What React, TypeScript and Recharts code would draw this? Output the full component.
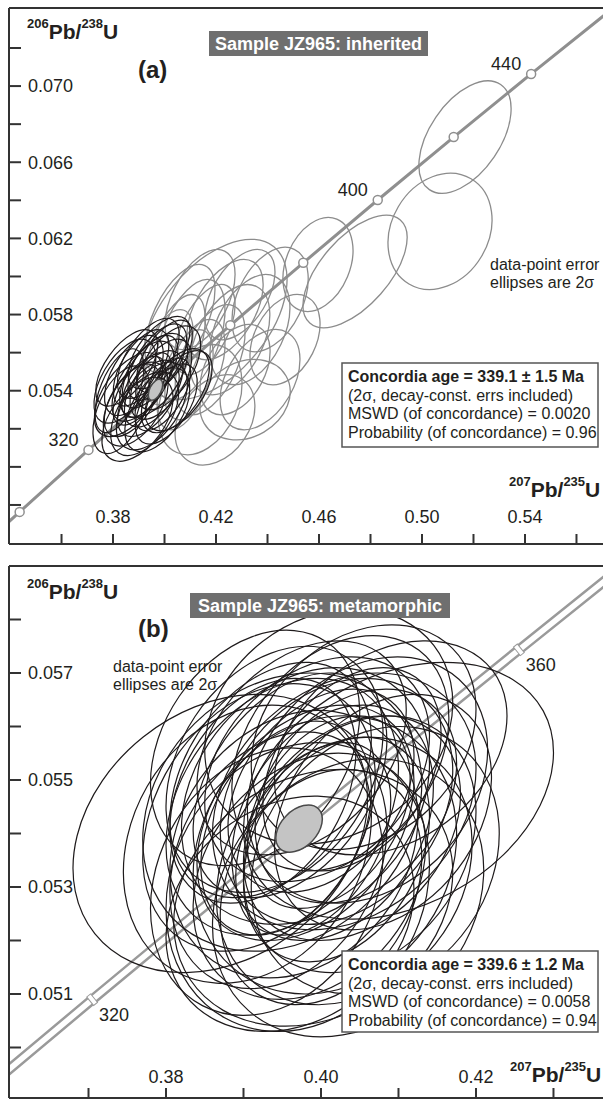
import React from 'react';
import { ComposedChart, XAxis, YAxis, Line, Scatter, ReferenceLine } from 'recharts';

const FONT = '"Liberation Sans", Arial, Helvetica, sans-serif';
const INK = '#231f20';
const AXIS = '#333333';
const W = 603;

// concordia curve: age (Ma), 207Pb/235U, 206Pb/238U
const concordiaAges = [280, 300, 310, 320, 330, 340, 350, 360, 370, 380, 400, 420, 440, 460];
const concordia207 = [0.317529, 0.343737, 0.357038, 0.370467, 0.384032, 0.397729, 0.411563, 0.425533, 0.439642, 0.453891, 0.482812, 0.512309, 0.542392, 0.573073];
const concordia206 = [0.044392, 0.047637, 0.049264, 0.050893, 0.052524, 0.054158, 0.055795, 0.057434, 0.059075, 0.060719, 0.064016, 0.067322, 0.070638, 0.073965];

// panel (a) axes
const aXDomain = [0.3396, 0.5703];
const aYDomain = [0.04595, 0.0741];
const aXTicks = [0.36, 0.38, 0.40, 0.42, 0.44, 0.46, 0.48, 0.50, 0.52, 0.54, 0.56];
const aXLabels = [0.38, 0.42, 0.46, 0.50, 0.54];
const aYTicks = [0.048, 0.050, 0.052, 0.054, 0.056, 0.058, 0.060, 0.062, 0.064, 0.066, 0.068, 0.070, 0.072];
const aYLabels = [0.054, 0.058, 0.062, 0.066, 0.070];
const aMarkerAges = [300, 320, 340, 360, 380, 400, 420, 440];
const aLabelAges = [320, 400, 440];

// panel (b) axes
const bXDomain = [0.35974, 0.43639];
const bYDomain = [0.049056, 0.059];
const bXTicks = [0.37, 0.38, 0.39, 0.40, 0.41, 0.42, 0.43];
const bXLabels = [0.38, 0.40, 0.42];
const bYTicks = [0.050, 0.051, 0.052, 0.053, 0.054, 0.055, 0.056, 0.057, 0.058];
const bYLabels = [0.051, 0.053, 0.055, 0.057];
const bMarkerAges = [320, 340, 360];
const bLabelAges = [320, 360];

// error ellipses: [207Pb/235U, 206Pb/238U, 2s x, 2s y, rho]
const aInherited = [
  [0.5167, 0.06732, 0.0179, 0.00295, 0.5],
  [0.5070, 0.06237, 0.0202, 0.00305, 0.2],
  [0.4596, 0.06063, 0.0136, 0.00247, 0.3],
  [0.4740, 0.06026, 0.0202, 0.00295, 0.6],
  [0.4196, 0.05774, 0.0280, 0.00421, 0.5],
  [0.4138, 0.05353, 0.0163, 0.00289, 0.3],
  [0.4313, 0.05353, 0.0175, 0.00211, 0.2],
  [0.4371, 0.05458, 0.0155, 0.00263, 0.4],
  [0.4099, 0.05668, 0.0136, 0.00316, 0.5],
  [0.4041, 0.05616, 0.0117, 0.00289, 0.55],
  [0.4177, 0.05563, 0.0136, 0.00289, 0.5],
  [0.4254, 0.05668, 0.0155, 0.00289, 0.45],
  [0.4118, 0.05511, 0.0117, 0.00263, 0.5],
  [0.4060, 0.05774, 0.0136, 0.00289, 0.55],
  [0.4235, 0.05826, 0.0148, 0.00263, 0.5],
  [0.4332, 0.05721, 0.0155, 0.00289, 0.4],
  [0.4157, 0.05721, 0.0117, 0.00237, 0.55],
  [0.4080, 0.05458, 0.0109, 0.00263, 0.5],
  [0.4410, 0.05879, 0.0148, 0.00274, 0.4],
  [0.4293, 0.05905, 0.0136, 0.00237, 0.5],
  [0.4196, 0.05247, 0.0155, 0.00237, 0.3],
  [0.4002, 0.05563, 0.0109, 0.00263, 0.55],
  [0.4468, 0.05668, 0.0136, 0.00237, 0.35],
  [0.4274, 0.05511, 0.0136, 0.00237, 0.4],
  [0.4138, 0.05879, 0.0136, 0.00263, 0.5],
];

const aMetamorphic = [
  [0.3860, 0.0538, 0.0132, 0.0022, 0.55],
  [0.3916, 0.0545, 0.0120, 0.0021, 0.6],
  [0.3958, 0.0541, 0.0114, 0.0020, 0.55],
  [0.3888, 0.0533, 0.0126, 0.0022, 0.5],
  [0.3944, 0.0550, 0.0108, 0.0019, 0.6],
  [0.3986, 0.0546, 0.0120, 0.0021, 0.55],
  [0.3832, 0.0530, 0.0110, 0.0023, 0.5],
  [0.4014, 0.0552, 0.0126, 0.0022, 0.55],
  [0.3902, 0.0540, 0.0102, 0.0018, 0.6],
  [0.3937, 0.0536, 0.0120, 0.0020, 0.55],
  [0.3972, 0.0555, 0.0114, 0.0020, 0.6],
  [0.3881, 0.0548, 0.0114, 0.0021, 0.55],
  [0.3923, 0.0528, 0.0132, 0.0022, 0.5],
  [0.3993, 0.0538, 0.0108, 0.0019, 0.6],
  [0.3846, 0.0545, 0.0120, 0.0022, 0.55],
  [0.4055, 0.0540, 0.0130, 0.0021, 0.55],
  [0.3951, 0.0532, 0.0138, 0.0023, 0.5],
  [0.3909, 0.0552, 0.0108, 0.0020, 0.6],
  [0.4007, 0.0533, 0.0120, 0.0021, 0.55],
  [0.3825, 0.0540, 0.0095, 0.0022, 0.55],
  [0.3979, 0.0560, 0.0120, 0.0019, 0.6],
  [0.3895, 0.0525, 0.0138, 0.0022, 0.5],
  [0.3930, 0.0543, 0.0096, 0.0017, 0.6],
  [0.3958, 0.0548, 0.0132, 0.0022, 0.55],
  [0.3874, 0.0535, 0.0108, 0.0019, 0.55],
  [0.4042, 0.0540, 0.0132, 0.0022, 0.55],
  [0.4000, 0.0558, 0.0108, 0.0019, 0.6],
  [0.3937, 0.0557, 0.0120, 0.0021, 0.6],
  [0.3853, 0.0552, 0.0120, 0.0020, 0.6],
  [0.3972, 0.0530, 0.0126, 0.0022, 0.5],
];

const bMetamorphic = [
  [0.3870, 0.0540, 0.0190, 0.0026, 0.25],
  [0.4010, 0.0560, 0.0160, 0.0022, 0.2],
  [0.4100, 0.0548, 0.0200, 0.0024, 0.3],
  [0.3990, 0.0528, 0.0180, 0.0024, 0.2],
  [0.3950, 0.0545, 0.0150, 0.0024, 0.3],
  [0.3980, 0.0542, 0.0140, 0.0022, 0.35],
  [0.4020, 0.0546, 0.0150, 0.0023, 0.25],
  [0.3965, 0.0538, 0.0160, 0.0025, 0.2],
  [0.4040, 0.0541, 0.0140, 0.0021, 0.3],
  [0.3935, 0.0550, 0.0130, 0.0022, 0.35],
  [0.4005, 0.0536, 0.0170, 0.0026, 0.15],
  [0.3995, 0.0552, 0.0145, 0.0021, 0.3],
  [0.4060, 0.0550, 0.0155, 0.0023, 0.25],
  [0.3945, 0.0535, 0.0140, 0.0024, 0.25],
  [0.4030, 0.0533, 0.0165, 0.0025, 0.2],
  [0.3920, 0.0543, 0.0150, 0.0025, 0.3],
  [0.3975, 0.0556, 0.0135, 0.0020, 0.35],
  [0.4050, 0.0538, 0.0150, 0.0024, 0.25],
  [0.3960, 0.0549, 0.0125, 0.0021, 0.4],
  [0.4015, 0.0542, 0.0130, 0.0022, 0.3],
  [0.3985, 0.0532, 0.0150, 0.0023, 0.25],
  [0.4080, 0.0544, 0.0140, 0.0022, 0.3],
  [0.3905, 0.0538, 0.0160, 0.0026, 0.2],
  [0.4025, 0.0555, 0.0140, 0.0022, 0.3],
  [0.3955, 0.0541, 0.0110, 0.0020, 0.35],
  [0.4000, 0.0548, 0.0120, 0.0019, 0.35],
  [0.4045, 0.0547, 0.0130, 0.0020, 0.3],
  [0.3970, 0.0530, 0.0170, 0.0027, 0.15],
  [0.4035, 0.0528, 0.0175, 0.0026, 0.2],
  [0.3940, 0.0552, 0.0140, 0.0023, 0.3],
  [0.4070, 0.0535, 0.0160, 0.0025, 0.2],
  [0.3990, 0.0539, 0.0100, 0.0018, 0.4],
  [0.4010, 0.0544, 0.0105, 0.0018, 0.35],
  [0.3925, 0.0548, 0.0120, 0.0021, 0.35],
  [0.4055, 0.0558, 0.0145, 0.0021, 0.25],
  [0.3930, 0.0531, 0.0150, 0.0025, 0.2],
  [0.4020, 0.0537, 0.0120, 0.0021, 0.3],
  [0.3980, 0.0547, 0.0160, 0.0024, 0.25],
  [0.3960, 0.0525, 0.0160, 0.0022, 0.2],
  [0.4090, 0.0556, 0.0150, 0.0020, 0.3],
  [0.3915, 0.0556, 0.0135, 0.0022, 0.3],
  [0.4040, 0.0552, 0.0115, 0.0019, 0.35],
  [0.4000, 0.0530, 0.0130, 0.0022, 0.25],
  [0.3950, 0.0544, 0.0180, 0.0026, 0.2],
  [0.4030, 0.0546, 0.0170, 0.0024, 0.25],
];

// concordia ages (weighted ellipses)
const aConcordiaAge = [[0.3965, 0.05405, 0.0028, 0.00055, 0.5]];
const bConcordiaAge = [[0.39717, 0.054092, 0.0030, 0.00044, 0.4]];

const concordiaRows = concordiaAges.map((age, i) => ({ age, x: concordia207[i], y: concordia206[i] }));
const markerRows = (ages: number[], labels: number[]) =>
  concordiaRows.filter((r) => ages.includes(r.age)).map((r) => ({ ...r, label: labels.includes(r.age) ? String(r.age) : '' }));
const toEllipses = (list: number[][]) => list.map(([x, y, sx, sy, rho]) => ({ x, y, sx, sy, rho }));

const fmt = (labels: number[], digits: number) => (v: number) =>
  labels.some((l) => Math.abs(l - v) < 1e-9) ? v.toFixed(digits) : '';

function ErrorEllipse(props: any) {
  const { cx, cy, payload, kx, ky, ink, paint, sw } = props;
  if (cx == null || cy == null) return null;
  const a = payload.sx * kx;
  const b = payload.sy * ky;
  const c = -payload.rho * a * b; // screen y points down
  const m = (a * a + b * b) / 2;
  const d = Math.sqrt(((a * a - b * b) / 2) ** 2 + c * c);
  const rx = Math.sqrt(m + d);
  const ry = Math.sqrt(Math.max(m - d, 0));
  const ang = (0.5 * Math.atan2(2 * c, a * a - b * b) * 180) / Math.PI;
  return (
    <ellipse cx={cx} cy={cy} rx={rx} ry={ry} transform={`rotate(${ang} ${cx} ${cy})`}
      fill={paint} stroke={ink} strokeWidth={sw} />
  );
}

function CircleMark(props: any) {
  const { cx, cy, payload } = props;
  if (cx == null) return null;
  return (
    <g>
      <circle cx={cx} cy={cy} r={4.5} fill="#fff" stroke="#8f8f8f" strokeWidth={1.5} />
      {payload.label && (
        <text x={cx - 25} y={cy - 10} textAnchor="middle" dominantBaseline="central"
          fontSize={18} fontFamily={FONT} fill={INK}>{payload.label}</text>
      )}
    </g>
  );
}

function BandMark(props: any) {
  const { cx, cy, payload } = props;
  if (cx == null) return null;
  return (
    <g>
      <rect x={cx - 2.5} y={cy - 5.5} width={5} height={11} fill="#fff" stroke="#9a9a9a" strokeWidth={1}
        transform={`rotate(-39 ${cx} ${cy})`} />
      {payload.label && (
        <text x={cx + 22} y={cy + 15} textAnchor="middle" dominantBaseline="central"
          fontSize={18} fontFamily={FONT} fill={INK}>{payload.label}</text>
      )}
    </g>
  );
}

function Panel(p: any) {
  const { height, margin, xDomain, yDomain, xTicks, xLabels, xDigits, yTicks, yLabels, xTickMargin, band } = p;
  const kx = (W - margin.left - margin.right) / (xDomain[1] - xDomain[0]);
  const ky = (height - margin.top - margin.bottom) / (yDomain[1] - yDomain[0]);
  const axisStyle = { stroke: AXIS, strokeWidth: 2 };
  const tickStyle = { fill: INK, fontSize: 18, fontFamily: FONT };
  return (
    <ComposedChart width={W} height={height} margin={margin}>
      <XAxis type="number" dataKey="x" domain={xDomain} allowDataOverflow ticks={xTicks} interval={0}
        mirror tickSize={10} tickMargin={xTickMargin} axisLine={axisStyle} tickLine={axisStyle}
        tick={tickStyle} tickFormatter={fmt(xLabels, xDigits)} />
      <YAxis type="number" dataKey="y" domain={yDomain} allowDataOverflow ticks={yTicks} interval={0}
        mirror tickSize={12} tickMargin={7} axisLine={axisStyle} tickLine={axisStyle}
        tick={tickStyle} tickFormatter={fmt(yLabels, 3)} />
      <ReferenceLine y={yDomain[1]} stroke={AXIS} strokeWidth={2} />
      {band ? (
        <Line data={concordiaRows} dataKey="y" type="linear" stroke="#9a9a9a" strokeWidth={10.5}
          dot={false} activeDot={false} isAnimationActive={false} />
      ) : null}
      <Line data={concordiaRows} dataKey="y" type="linear" stroke={band ? '#fff' : '#8f8f8f'}
        strokeWidth={band ? 5.5 : 3} dot={false} activeDot={false} isAnimationActive={false} />
      {p.layers.map((layer: any, i: number) => (
        <Scatter key={i} data={layer.data} isAnimationActive={false}
          shape={(s: any) => <ErrorEllipse {...s} kx={kx} ky={ky} ink={layer.ink} paint={layer.paint} sw={layer.sw} />} />
      ))}
      <Scatter data={p.markers} isAnimationActive={false} shape={band ? BandMark : CircleMark} />
      <Scatter data={p.ageEllipse} isAnimationActive={false}
        shape={(s: any) => <ErrorEllipse {...s} kx={kx} ky={ky} ink="#4a4a4a" paint="#c4c4c4" sw={1.5} />} />
    </ComposedChart>
  );
}

function RatioTitle({ x, y, top, bottom }: any) {
  return (
    <text x={x} y={y} fontFamily={FONT} fontWeight="bold" fill={INK}>
      <tspan fontSize={13} dy={-11}>{top}</tspan>
      <tspan fontSize={21} dy={11}>Pb/</tspan>
      <tspan fontSize={13} dy={-11}>{bottom}</tspan>
      <tspan fontSize={21} dy={11}>U</tspan>
    </text>
  );
}

function StatsBox({ x, y, h, age, mswd, prob }: any) {
  const t = { fontFamily: FONT, fontSize: 16, fill: INK };
  return (
    <g>
      <rect x={x} y={y} width={256} height={h} fill="#fff" stroke="#555" strokeWidth={1.5} />
      <text x={x + 6} y={y + 19} {...t} fontWeight="bold">{`Concordia age = ${age} Ma`}</text>
      <text x={x + 6} y={y + 37.5} {...t}>(2σ, decay-const. errs included)</text>
      <text x={x + 6} y={y + 56} {...t}>{`MSWD (of concordance) = ${mswd}`}</text>
      <text x={x + 6} y={y + 74.5} {...t}>{`Probability (of concordance) = ${prob}`}</text>
    </g>
  );
}

function TitleTag({ x, y, w, text }: any) {
  return (
    <g>
      <rect x={x} y={y} width={w} height={25} fill="#6f6f6f" />
      <text x={x + w / 2} y={y + 19} textAnchor="middle" fontFamily={FONT} fontSize={18}
        fontWeight="bold" fill="#fff">{text}</text>
    </g>
  );
}

export default function App() {
  const note = { fontFamily: FONT, fontSize: 16, fill: INK };
  return (
    <div style={{ position: 'absolute', left: 0, top: 0, width: W, height: 1099, background: '#fff' }}>
      <div style={{ position: 'absolute', left: 0, top: 0 }}>
        <Panel height={548} margin={{ top: 8, right: 0, bottom: 4, left: 9 }}
          xDomain={aXDomain} yDomain={aYDomain} xTicks={aXTicks} xLabels={aXLabels} xDigits={2}
          yTicks={aYTicks} yLabels={aYLabels} xTickMargin={11} band={false}
          layers={[
            { data: toEllipses(aInherited), ink: '#8c8c8c', paint: 'none', sw: 1.3 },
            { data: toEllipses(aMetamorphic), ink: '#1e1a1b', paint: 'none', sw: 1.2 },
          ]}
          markers={markerRows(aMarkerAges, aLabelAges)} ageEllipse={toEllipses(aConcordiaAge)} />
      </div>
      <div style={{ position: 'absolute', left: 0, top: 556 }}>
        <Panel height={543} margin={{ top: 10, right: 0, bottom: 1, left: 9 }}
          xDomain={bXDomain} yDomain={bYDomain} xTicks={bXTicks} xLabels={bXLabels} xDigits={2}
          yTicks={bYTicks} yLabels={bYLabels} xTickMargin={5} band
          layers={[{ data: toEllipses(bMetamorphic), ink: '#1e1a1b', paint: 'none', sw: 1.2 }]}
          markers={markerRows(bMarkerAges, bLabelAges)} ageEllipse={toEllipses(bConcordiaAge)} />
      </div>
      <svg width={W} height={1099} style={{ position: 'absolute', left: 0, top: 0, pointerEvents: 'none' }}>
        <RatioTitle x={27} y={39} top="206" bottom="238" />
        <text x={138} y={78} fontFamily={FONT} fontSize={24} fontWeight="bold" fill={INK}>(a)</text>
        <TitleTag x={209} y={31} w={219} text="Sample JZ965: inherited" />
        <text x={490} y={270} {...note}>data-point error</text>
        <text x={490} y={288} {...note}>ellipses are 2σ</text>
        <StatsBox x={342} y={363} h={84} age="339.1 ± 1.5" mswd="0.0020" prob="0.96" />
        <RatioTitle x={509} y={497} top="207" bottom="235" />

        <RatioTitle x={27} y={599} top="206" bottom="238" />
        <text x={138} y={637} fontFamily={FONT} fontSize={24} fontWeight="bold" fill={INK}>(b)</text>
        <TitleTag x={190} y={593} w={260} text="Sample JZ965: metamorphic" />
        <text x={113} y={672} {...note}>data-point error</text>
        <text x={113} y={690} {...note}>ellipses are 2σ</text>
        <StatsBox x={342} y={951} h={81} age="339.6 ± 1.2" mswd="0.0058" prob="0.94" />
        <RatioTitle x={510} y={1082} top="207" bottom="235" />
      </svg>
    </div>
  );
}
